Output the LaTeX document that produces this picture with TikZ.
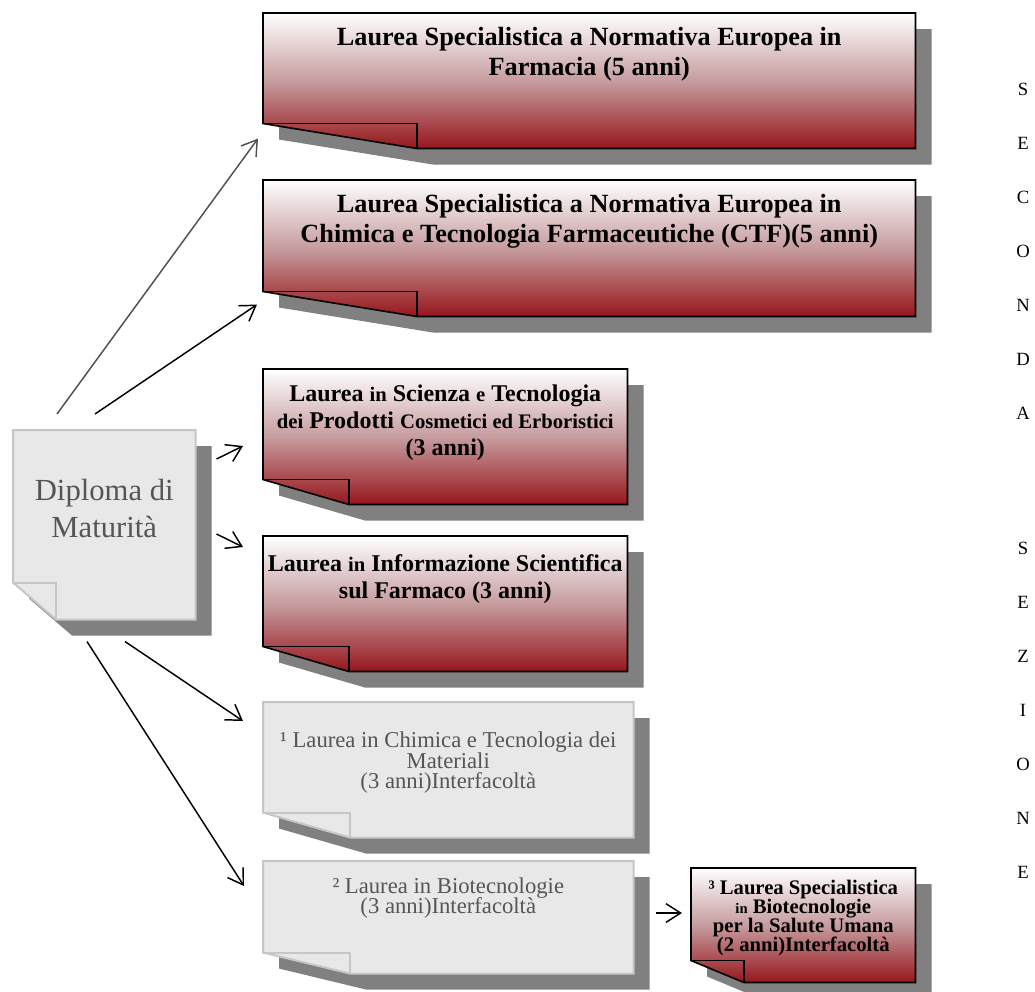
\documentclass[tikz,border=0pt]{standalone}
\usepackage{fontspec}
\setmainfont{Liberation Serif}
\usetikzlibrary{arrows.meta,positioning}

\definecolor{wine}{RGB}{150,22,28}
\definecolor{rose}{RGB}{198,156,158}
\definecolor{paper}{RGB}{232,232,232}
\definecolor{paperedge}{RGB}{198,198,198}
\definecolor{boxshadow}{RGB}{128,128,128}
\definecolor{inkgrey}{RGB}{85,85,85}
\definecolor{arrowgrey}{RGB}{80,80,80}

\setlength{\lineskiplimit}{-50pt}

% shadow, dog-eared body and flap of a frame node
\newcommand\foldbox[4]{%
  \fill[boxshadow] ([shift={(16,16)}]#1.north west) -- ([shift={(16,16)}]#1.north east)
    -- ([shift={(16,16)}]#1.south east) -- ([shift={(16+#2,16)}]#1.south west)
    -- ([shift={(16,16-#3)}]#1.south west) -- cycle;
  \path[#4] (#1.north west) -- (#1.north east) -- (#1.south east)
    -- ([shift={(#2,0)}]#1.south west) -- ([shift={(0,-#3)}]#1.south west) -- cycle;
  \draw[#4edge] ([shift={(0,-#3)}]#1.south west) -- ([shift={(#2,-#3)}]#1.south west)
    -- ([shift={(#2,0)}]#1.south west);
}
\newcommand\sm[2][15.5]{{\fontsize{#1}{#1}\selectfont #2}}

\begin{document}
\begin{tikzpicture}[
  x=0.75pt, y=-0.75pt,
  boxframe/.style 2 args={anchor=north west, inner sep=0pt,
              minimum width=#1*0.75pt, minimum height=#2*0.75pt},
  redbox/.style={draw=black, line width=1.2pt, top color=white,
              bottom color=wine, middle color=rose},
  redboxedge/.style={draw=black, line width=1.2pt},
  greybox/.style={draw=paperedge, line width=1.5pt, fill=paper},
  greyboxedge/.style={draw=paperedge, line width=1.5pt},
  redtxt/.style 2 args={align=center, inner sep=0pt,
              font=\bfseries\fontsize{#1}{#2}\selectfont},
  greytxt/.style 2 args={align=center, inner sep=0pt, text=inkgrey,
              font=\fontsize{#1}{#2}\selectfont},
  sidetxt/.style={align=center, inner sep=0pt, font=\fontsize{14}{40.5}\selectfont},
  arrow/.style={-{Straight Barb[length=11pt, width=14pt]}, line width=1.1pt}
]
\useasboundingbox (0,0) rectangle (1035,992);

% diploma
\node[boxframe={182}{189}] (dip) at (13,430) {};
\foldbox{dip}{43}{37}{greybox}
\node[greytxt={23}{27.75}, below=37pt of dip.north] (diptxt) {Diploma di\\Maturità};

% five-year degrees
\node[boxframe={652}{135}] (farm) at (263,13) {};
\foldbox{farm}{154}{25}{redbox}
\node[redtxt={19.7}{22.5}, below=10.5pt of farm.north] (farmtxt)
  {Laurea Specialistica a Normativa Europea in\\Farmacia (5 anni)};

\node[boxframe={652}{136}] (ctf) at (263,180) {};
\foldbox{ctf}{154}{25}{redbox}
\node[redtxt={19.7}{22.5}, below=10.5pt of ctf.north] (ctftxt)
  {Laurea Specialistica a Normativa Europea in\\Chimica e Tecnologia Farmaceutiche (CTF)(5 anni)};

% three-year degrees
\node[boxframe={364}{135}] (cosm) at (263,369) {};
\foldbox{cosm}{86}{25}{redbox}
\node[redtxt={18}{20.25}, below=11.5pt of cosm.north] (cosmtxt)
  {Laurea \sm{in} Scienza \sm{e} Tecnologia\\\sm{dei} Prodotti \sm{Cosmetici ed Erboristici}\\(3 anni)};

\node[boxframe={364}{135}] (info) at (263,536) {};
\foldbox{info}{86}{25}{redbox}
\node[redtxt={18}{20.25}, below=13.8pt of info.north] (infotxt)
  {Laurea \sm{in} Informazione Scientifica\\sul Farmaco (3 anni)};

% interfaculty degrees
\node[boxframe={370}{135}] (mat) at (263,702) {};
\foldbox{mat}{87}{25}{greybox}
\node[greytxt={17}{15.5}, below=22pt of mat.north] (mattxt)
  {¹ Laurea in Chimica e Tecnologia dei\\Materiali\\(3 anni)Interfacoltà};

\node[boxframe={370}{112}] (bio) at (263,861) {};
\foldbox{bio}{87}{21}{greybox}
\node[greytxt={17}{15.5}, below=12pt of bio.north] (biotxt)
  {² Laurea in Biotecnologie\\(3 anni)Interfacoltà};

\node[boxframe={224}{114}] (salute) at (691,868) {};
\foldbox{salute}{53}{22}{redbox}
\node[redtxt={15.5}{14.25}, below=8.6pt of salute.north] (salutetxt)
  {³ Laurea Specialistica\\\sm[11]{in} Biotecnologie\\per la Salute Umana\\(2 anni)Interfacoltà};

% side caption
\node[sidetxt, anchor=north] (sezione) at (1023,83)
  {S\\E\\C\\O\\N\\D\\A\\[60.75pt]S\\E\\Z\\I\\O\\N\\E};

% arrows
\draw[arrow, draw=arrowgrey] ([shift={(44,-16)}]dip.north west) -- ([shift={(-5,-10)}]farm.south west);
\draw[arrow] ([shift={(82,-16)}]dip.north west) -- ([shift={(-6,-12)}]ctf.south west);
\draw[arrow] ([shift={(21,29)}]dip.north east) -- ([shift={(-20,77)}]cosm.north west);
\draw[arrow] ([shift={(21,104)}]dip.north east) -- ([shift={(-20,11)}]info.north west);
\draw[arrow] ([shift={(112,22)}]dip.south west) -- ([shift={(-20,19)}]mat.north west);
\draw[arrow] ([shift={(74,22)}]dip.south west) -- ([shift={(-19,25)}]bio.north west);
\draw[arrow] ([shift={(22,52)}]bio.north east) -- ([shift={(-9,45)}]salute.north west);
\end{tikzpicture}
\end{document}
